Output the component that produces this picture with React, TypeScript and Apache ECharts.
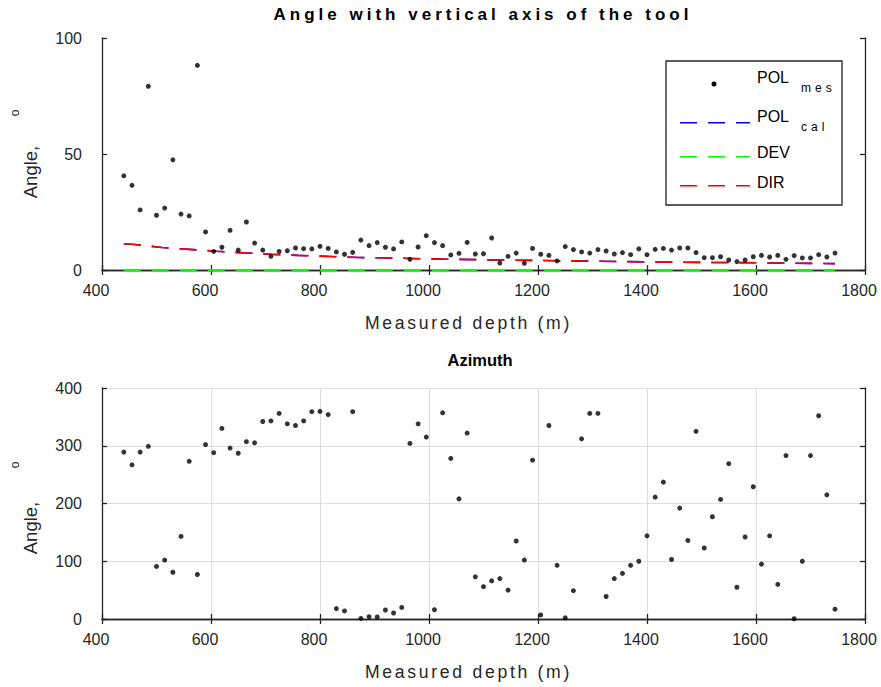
import React, { useEffect, useRef } from "react";
import * as echarts from "echarts";

const depths = [440,455,470,485,500,515,530,545,560,575,590,605,620,635,650,665,680,695,710,725,740,755,770,785,800,815,830,845,860,875,890,905,920,935,950,965,980,995,1010,1025,1040,1055,1070,1085,1100,1115,1130,1145,1160,1175,1190,1205,1220,1235,1250,1265,1280,1295,1310,1325,1340,1355,1370,1385,1400,1415,1430,1445,1460,1475,1490,1505,1520,1535,1550,1565,1580,1595,1610,1625,1640,1655,1670,1685,1700,1715,1730,1745];

const polMes = [40.6,36.5,25.9,79.2,23.6,26.7,47.5,24.1,23.3,88.2,16.4,8.0,9.8,17.1,8.6,20.7,11.6,8.6,5.9,8.0,8.3,9.5,9.2,9.1,10.2,9.3,7.8,6.8,7.6,12.9,10.5,11.8,9.8,9.1,12.1,4.6,9.9,14.8,11.8,10.5,6.5,7.2,11.9,6.9,7.0,13.8,3.0,5.9,7.3,2.9,9.3,6.8,6.3,3.9,10.1,8.8,7.8,7.3,8.8,8.2,6.9,7.5,6.6,9.1,6.6,8.9,9.3,8.6,9.5,9.5,7.5,5.3,5.3,5.7,4.3,3.6,4.3,5.7,6.3,5.6,6.3,4.6,6.2,5.2,5.2,6.6,5.6,7.3];

const azimuth = [289,267,289,299,91,102,81,143,273,77,302,288,330,296,287,307,305,342,343,356,338,335,343,359,359.5,354,18,14,359,1,4,3.5,15.6,10.4,20,304,338,315,16,357,278,208,322,73,56,66,70,50,135,102,275,7,335,93,2,49,312,356,356,39,70,79,93,100,144,211,237,103,192,136,325,123,177,207,269,55,142,229,95,144,60,283,0.5,100,283,352,215,17];

const calDepths = [440,460,510,560,610,660,710,760,820,870,920,1000,1100,1200,1300,1400,1500,1600,1700,1745];
const polCal = [11.3,11.0,9.7,8.9,8.1,7.4,6.8,6.3,5.8,5.4,5.2,4.8,4.4,4.1,3.8,3.5,3.3,3.1,2.85,2.75];
const dirVals = [11.3,11.0,9.7,8.9,8.1,7.4,6.8,6.3,5.8,5.4,5.2,4.8,4.4,4.1,3.8,3.5,3.3,3.1,2.85,2.75];
const devDepths = [440, 1745];
const devVals = [0, 0];

const xTicks = [400, 1800, 200];
const yTop = [0, 100, 50];
const yBot = [0, 400, 100];

const TITLE_TOP = "Angle with vertical axis of the tool";
const TITLE_BOT = "Azimuth";
const X_NAME = "Measured depth (m)";

const FONT = "Liberation Sans, Arial, sans-serif";
const AX = "#262626";

function zip(a: number[], b: number[]) {
  return a.map((v, i) => [v, b[i]]);
}

export default function App() {
  const ref = useRef<HTMLDivElement>(null);
  useEffect(() => {
    if (!ref.current) return;
    const chart = echarts.init(ref.current, null, { renderer: "svg" });
    const gridL = 102;
    const gridW = 763;
    const axisLine = { show: true, lineStyle: { color: AX, width: 1.3 } };
    const tick = { show: true, inside: true, length: 5, lineStyle: { color: AX, width: 1.3 } };
    const fmt = (v: number) => String(v);
    const xLabel = { show: true, fontSize: 16, color: AX, fontFamily: FONT, margin: 12, padding: [0, 12, 0, 0], formatter: fmt };
    const yLabel = { show: true, fontSize: 16, color: AX, fontFamily: FONT, margin: 20, padding: [0, 0, 8, 0], formatter: fmt };
    const mkX = (gi: number, pos: string, main: boolean, grid: boolean) => ({
      type: "value",
      gridIndex: gi,
      position: pos,
      min: xTicks[0],
      max: xTicks[1],
      interval: xTicks[2],
      axisLine,
      axisTick: tick,
      axisLabel: main ? xLabel : { show: false },
      splitLine: { show: grid && main, lineStyle: { color: "#dedede", width: 1 } },
      name: main ? X_NAME : "",
      nameLocation: "middle",
      nameGap: 44,
      nameTextStyle: { fontSize: 17.6, color: AX, fontFamily: FONT, verticalAlign: "top", padding: [0, 30, 0, 0] },
    });
    const mkY = (gi: number, pos: string, main: boolean, grid: boolean, r: number[]) => ({
      type: "value",
      gridIndex: gi,
      position: pos,
      min: r[0],
      max: r[1],
      interval: r[2],
      axisLine,
      axisTick: tick,
      axisLabel: main ? yLabel : { show: false },
      splitLine: { show: grid && main, lineStyle: { color: "#dedede", width: 1 } },
    });
    const dash = [17, 11];
    const option: any = {
      animation: false,
      backgroundColor: "#ffffff",
      textStyle: { fontFamily: FONT },
      title: [
        { text: TITLE_TOP, left: 483, top: 6, padding: 0, textAlign: "center",
          textStyle: { fontSize: 17, fontWeight: "bold", color: "#000", fontFamily: FONT } },
        { text: TITLE_BOT, left: 480, top: 351, padding: 0, textAlign: "center",
          textStyle: { fontSize: 16.5, fontWeight: "bold", color: "#000", fontFamily: FONT } },
      ],
      grid: [
        { left: gridL, width: gridW, top: 38, height: 232 },
        { left: gridL, width: gridW, top: 388, height: 231 },
      ],
      xAxis: [mkX(0, "bottom", true, false), mkX(0, "top", false, false), mkX(1, "bottom", true, true), mkX(1, "top", false, true)],
      yAxis: [mkY(0, "left", true, false, yTop), mkY(0, "right", false, false, yTop), mkY(1, "left", true, true, yBot), mkY(1, "right", false, true, yBot)],
      series: [
        { name: "POL mes", type: "scatter", xAxisIndex: 0, yAxisIndex: 0, symbol: "circle", symbolSize: 5,
          itemStyle: { color: "#000" }, data: zip(depths, polMes), z: 5 },
        { name: "POL cal", type: "line", xAxisIndex: 0, yAxisIndex: 0, showSymbol: false, symbol: "none",
          lineStyle: { color: "#0000ff", width: 1.6, type: dash }, data: zip(calDepths, polCal), z: 3 },
        { name: "DEV", type: "line", xAxisIndex: 0, yAxisIndex: 0, showSymbol: false, symbol: "none", clip: false,
          lineStyle: { color: "#00ff00", width: 1.8, type: dash }, data: zip(devDepths, devVals), z: 4 },
        { name: "DIR", type: "line", xAxisIndex: 0, yAxisIndex: 0, showSymbol: false, symbol: "none",
          lineStyle: { color: "#ff0000", width: 1.6, type: dash }, data: zip(calDepths, dirVals), z: 4 },
        { name: "Azimuth", type: "scatter", xAxisIndex: 2, yAxisIndex: 2, symbol: "circle", symbolSize: 5,
          itemStyle: { color: "#000" }, data: zip(depths, azimuth), z: 5, clip: false },
      ],
      graphic: [
        { type: "text", x: 30, y: 172, rotation: Math.PI / 2,
          style: { text: "Angle,", fontSize: 18.5, fill: AX, fontFamily: FONT, align: "center", verticalAlign: "middle" } },
        { type: "text", x: 15, y: 113, rotation: Math.PI / 2,
          style: { text: "o", fontSize: 12, fill: AX, fontFamily: FONT, align: "center", verticalAlign: "middle" } },
        { type: "text", x: 30, y: 528, rotation: Math.PI / 2,
          style: { text: "Angle,", fontSize: 18.5, fill: AX, fontFamily: FONT, align: "center", verticalAlign: "middle" } },
        { type: "text", x: 15, y: 465, rotation: Math.PI / 2,
          style: { text: "o", fontSize: 12, fill: AX, fontFamily: FONT, align: "center", verticalAlign: "middle" } },
        { type: "rect", shape: { x: 666, y: 61, width: 176, height: 144 }, z: 10,
          style: { fill: "#fff", stroke: AX, lineWidth: 1.3 } },
        { type: "circle", shape: { cx: 714, cy: 84, r: 2.5 }, z: 11, style: { fill: "#000" } },
        { type: "line", shape: { x1: 680, y1: 122.7, x2: 750, y2: 122.7 }, z: 11,
          style: { stroke: "#0000ff", lineWidth: 1.6, lineDash: dash } },
        { type: "line", shape: { x1: 680, y1: 156.7, x2: 750, y2: 156.7 }, z: 11,
          style: { stroke: "#00ff00", lineWidth: 1.6, lineDash: dash } },
        { type: "line", shape: { x1: 680, y1: 185.7, x2: 750, y2: 185.7 }, z: 11,
          style: { stroke: "#ff0000", lineWidth: 1.6, lineDash: dash } },
        { type: "text", x: 757, y: 77.5, z: 11,
          style: { text: "POL", fontSize: 16, fill: "#000", fontFamily: FONT, verticalAlign: "middle" } },
        { type: "text", x: 801, y: 88, z: 11,
          style: { text: "mes", fontSize: 12, fill: "#000", fontFamily: FONT, verticalAlign: "middle" } },
        { type: "text", x: 757, y: 116, z: 11,
          style: { text: "POL", fontSize: 16, fill: "#000", fontFamily: FONT, verticalAlign: "middle" } },
        { type: "text", x: 801, y: 127, z: 11,
          style: { text: "cal", fontSize: 12, fill: "#000", fontFamily: FONT, verticalAlign: "middle" } },
        { type: "text", x: 757, y: 152.5, z: 11,
          style: { text: "DEV", fontSize: 16, fill: "#000", fontFamily: FONT, verticalAlign: "middle" } },
        { type: "text", x: 757, y: 182.5, z: 11,
          style: { text: "DIR", fontSize: 16, fill: "#000", fontFamily: FONT, verticalAlign: "middle" } },
      ],
    };
    chart.setOption(option);
    const applySpacing = () => {
      if (!ref.current) return;
      ref.current.querySelectorAll("text").forEach((t: any) => {
        const s = (t.textContent || "").trim();
        if (s === TITLE_TOP) t.style.letterSpacing = "4px";
        if (s === X_NAME) t.style.letterSpacing = "2.7px";
        if (s === "mes" || s === "cal") t.style.letterSpacing = "4px";
      });
    };
    applySpacing();
    chart.on("finished", applySpacing);
    const timers = [setTimeout(applySpacing, 0), setTimeout(applySpacing, 100), setTimeout(applySpacing, 400)];
    return () => {
      timers.forEach((id) => clearTimeout(id));
      chart.dispose();
    };
  }, []);
  return (
    <div
      ref={ref}
      style={{ position: "fixed", left: 0, top: 0, width: 881, height: 687, background: "#fff" }}
    />
  );
}
